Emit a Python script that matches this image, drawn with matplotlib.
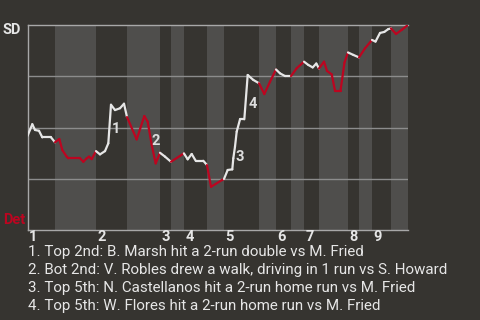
import numpy as np
import matplotlib
matplotlib.use('Agg')
import matplotlib.pyplot as plt
from matplotlib.collections import LineCollection

# game progress (% of game) and SD win probability (%)
progress = [0, 1.26, 1.97, 3.02, 3.89, 6.18, 7.23, 8.36, 9.15, 10.30, 10.72, 13.80,
            14.67, 15.56, 16.16, 16.87, 18.0, 19.05, 20.37, 21.24, 21.94, 23.0, 24.31,
            25.36, 26.15, 28.70, 30.70, 31.59, 32.64, 33.69, 34.82, 36.14, 37.71, 41.10,
            42.10, 43.15, 44.20, 46.20, 47.17, 48.23, 51.12, 51.64, 52.61, 53.82, 54.09,
            54.53, 54.98, 55.85, 56.98, 57.87, 59.34, 60.84, 62.23, 63.73, 65.31, 66.36,
            67.67, 69.25, 70.75, 72.67, 73.80, 74.95, 75.90, 76.61, 77.92, 78.71, 79.95,
            80.81, 82.26, 83.31, 84.23, 85.62, 87.12, 88.70, 90.54, 91.46, 92.64, 93.77,
            94.82, 95.53, 96.85, 98.34, 100]
sd_wp = [45.9, 51.6, 48.8, 48.4, 45.2, 45.2, 42.8, 44.4, 39.0, 35.8, 35.0, 35.0,
         33.3, 35.0, 35.8, 34.6, 38.5, 36.9, 38.5, 42.3, 61.1, 58.5, 59.4,
         61.6, 55.1, 44.2, 55.6, 52.8, 41.5, 32.5, 37.7, 35.8, 33.3, 37.4,
         34.5, 37.1, 33.8, 33.8, 31.7, 21.1, 24.4, 24.9, 29.3, 29.6, 35.0,
         40.6, 48.0, 54.0, 54.0, 75.6, 73.2, 71.6, 66.3, 72.3, 78.3, 76.4,
         75.1, 75.1, 78.9, 82.1, 80.5, 79.3, 81.2, 78.8, 82.1, 77.6, 75.9,
         68.0, 68.0, 81.7, 86.6, 85.4, 84.2, 88.6, 92.7, 91.9, 96.1, 96.6,
         98.0, 98.3, 95.6, 97.6, 100]

# start of each half inning (top 1st, bot 1st, top 2nd, ...)
half_starts = [0, 7.23, 18.0, 26.15, 34.82, 37.71, 41.10, 47.17, 51.64, 60.84,
               65.31, 69.25, 72.67, 76.61, 84.23, 87.12, 90.54, 95.53]
innings = ['1', '2', '3', '4', '5', '6', '7', '8', '9']

event_labels = ['1', '2', '3', '4']
event_x = [23.18, 33.69, 55.85, 59.08]
event_y = [49.1, 43.3, 35.8, 61.3]
event_notes = [
    "1. Top 2nd: B. Marsh hit a 2-run double vs M. Fried",
    "2. Bot 2nd: V. Robles drew a walk, driving in 1 run vs S. Howard",
    "3. Top 5th: N. Castellanos hit a 2-run home run vs M. Fried",
    "4. Top 5th: W. Flores hit a 2-run home run vs M. Fried",
]

BG = '#363430'
BAND = '#4f4e4c'
GRID = '#8c8c8c'
TEXT = '#e6e6e6'
RED = '#bc0520'

plt.rcParams['font.family'] = ['Roboto', 'DejaVu Sans']

fig = plt.figure(figsize=(4.8, 3.2), dpi=100, facecolor=BG)
ax = fig.add_axes([0.0573, 0.281, 0.7927, 0.641])
ax.set_facecolor(BG)
ax.set_xlim(0, 100)
ax.set_ylim(0, 100)

# bottom halves get the lighter band
edges = half_starts + [100]
for i in range(len(half_starts)):
    if i % 2 == 1:
        ax.axvspan(edges[i], edges[i + 1], color=BAND, lw=0, zorder=0)

for gy in [25, 50, 75]:
    ax.axhline(gy, color=GRID, lw=1, zorder=1)

# colour each segment by the half inning it falls in
pts = np.column_stack([progress, sd_wp])
segs = np.stack([pts[:-1], pts[1:]], axis=1)
mids = (pts[:-1, 0] + pts[1:, 0]) / 2
half_idx = np.searchsorted(half_starts, mids) - 1
colors = [TEXT if h % 2 == 0 else RED for h in half_idx]
lc = LineCollection(segs, colors=colors, linewidths=1.6, zorder=3,
                    capstyle='round', joinstyle='round')
ax.add_collection(lc)

for lab, ex, ey in zip(event_labels, event_x, event_y):
    ax.text(ex, ey, lab, color='#dddddd', fontsize=10.5, fontweight='bold',
            ha='center', va='center', zorder=4)

for side in ['left', 'top', 'bottom']:
    ax.spines[side].set_color('#a8a8a8')
    ax.spines[side].set_linewidth(1)
ax.spines['right'].set_visible(False)
ax.set_xticks([])
ax.set_yticks([])

# inning numbers under the axis
for lab, xs in zip(innings, half_starts[::2]):
    ax.text(xs + 0.4, -3.5, lab, color=TEXT, fontsize=10.5, fontweight='bold',
            ha='left', va='center', clip_on=False)

fig.text(0.006, 0.906, 'SD', color=TEXT, fontsize=10.5, fontweight='bold',
         ha='left', va='center')
fig.text(0.006, 0.312, 'Det', color=RED, fontsize=10.5, fontweight='bold',
         ha='left', va='center')

for i, note in enumerate(event_notes):
    fig.text(0.058, 0.212 - i * 0.0565, note, color=TEXT, fontsize=10.9,
             ha='left', va='center')

fig.savefig('out.png', dpi=100, facecolor=BG)
